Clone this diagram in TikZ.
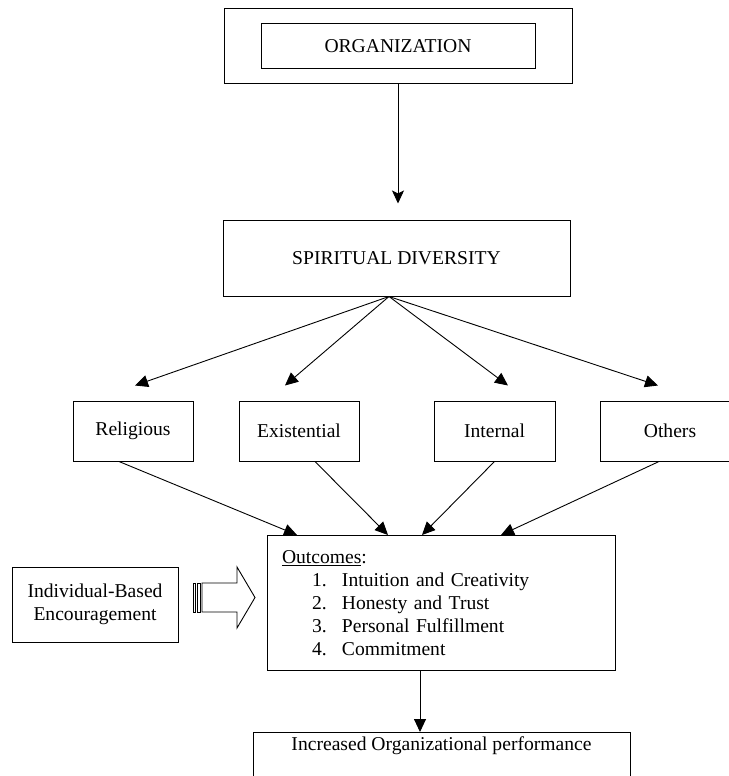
\documentclass[tikz,border=0pt]{standalone}
\usepackage{fontspec}
\setmainfont{Liberation Serif}
\usetikzlibrary{arrows.meta,calc}
\tikzset{
  box/.style={draw, line width=1pt, inner sep=0pt, font=\fontsize{19.6}{23}\selectfont, align=center},
  arr/.style={line width=0.9pt, -{Triangle[length=13pt,width=12pt]}},
  arrs/.style={line width=0.9pt, -{Stealth[length=13pt,width=12pt,inset=3pt]}}
}
\begin{document}
\begin{tikzpicture}[x=1pt,y=-1pt]
\useasboundingbox (0,0) rectangle (728,776);
% top
\node[box, minimum width=348, minimum height=74] (orgout) at (398,46) {};
\node[box, minimum width=274, minimum height=45] (org) at (398,46.5) {ORGANIZATION};
\node[box, minimum width=347, minimum height=76] (sd) at (396.5,258) {SPIRITUAL DIVERSITY};
\draw[arrs] (orgout.south) -- ([xshift=1.5pt,yshift=16pt]sd.north);
% categories
\node[box, minimum width=120, minimum height=60] (rel) at (133,431) {Religious};
\node[box, minimum width=120, minimum height=60] (exi) at (299,431) {Existential};
\node[box, minimum width=121, minimum height=60] (int) at (494.5,431) {Internal};
\node[box, minimum width=140, minimum height=60] (oth) at (670,431) {Others};
\coordinate (sdo) at ([xshift=-7.5pt]sd.south);
\draw[arr] (sdo) -- ([xshift=2pt,yshift=15pt]rel.north);
\draw[arr] (sdo) -- ([xshift=-14pt,yshift=15pt]exi.north);
\draw[arr] (sdo) -- ([xshift=13.5pt,yshift=15pt]int.north);
\draw[arr] (sdo) -- ([xshift=-12pt,yshift=15pt]oth.north);
% outcomes
\node[box, minimum width=348, minimum height=135, text width=318, align=left] (out) at (441,603)
  {\underline{Outcomes}:\\
   \hspace*{30pt}\makebox[30pt][l]{1.}Intuition and Creativity\\
   \hspace*{30pt}\makebox[30pt][l]{2.}Honesty and Trust\\
   \hspace*{30pt}\makebox[30pt][l]{3.}Personal Fulfillment\\
   \hspace*{30pt}\makebox[30pt][l]{4.}Commitment};
\draw[arr] ([xshift=-14pt]rel.south) -- ([xshift=-144pt]out.north);
\draw[arr] ([xshift=16pt]exi.south) -- ([xshift=-53pt]out.north);
\draw[arr] (int.south) -- ([xshift=-19pt]out.north);
\draw[arr] ([xshift=-11pt]oth.south) -- ([xshift=60pt]out.north);
% individual
\node[box, minimum width=166, minimum height=75] (ind) at (95,604.5) {Individual-Based\\Encouragement};
% striped block arrow
\draw[line width=0.9pt] (193,583) rectangle (195,612);
\draw[line width=0.9pt] (197,583) rectangle (200,612);
\draw[line width=0.9pt] (202,583) -- (237,583) -- (237,567) -- (255,597.5) -- (237,628) -- (237,612) -- (202,612) -- cycle;
% performance
\node[box, minimum width=377, anchor=north, inner ysep=4pt] (perf) at (441.5,732) {Increased Organizational performance\\ \strut};
\draw[arr] ([xshift=-21pt]out.south) -- ([xshift=-21pt]out.south |- perf.north);
\end{tikzpicture}
\end{document}
